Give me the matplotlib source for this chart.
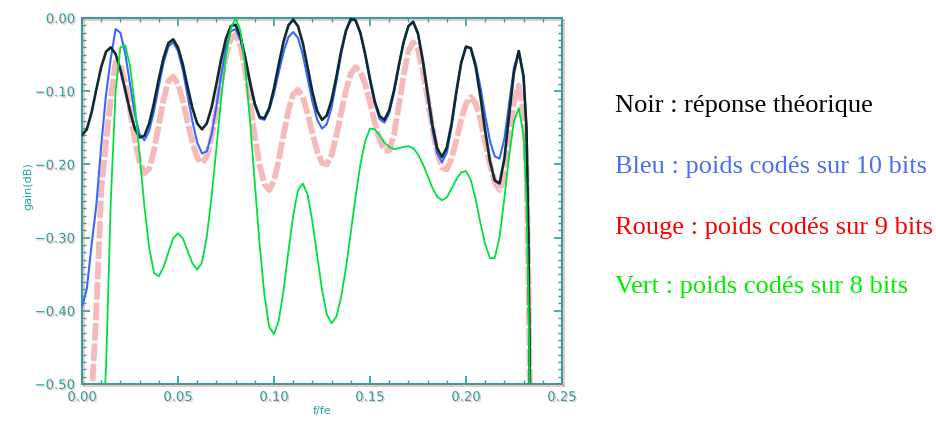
import matplotlib
matplotlib.use("Agg")
import matplotlib.pyplot as plt
import matplotlib.patheffects as pe
from matplotlib.ticker import MultipleLocator, FuncFormatter

# frequency axis (f/fe)
freq = [0.0000, 0.0025, 0.0050, 0.0075, 0.0100, 0.0125, 0.0150, 0.0175, 0.0200, 0.0225,
        0.0250, 0.0275, 0.0300, 0.0325, 0.0350, 0.0375, 0.0400, 0.0425, 0.0450, 0.0475,
        0.0500, 0.0525, 0.0550, 0.0575, 0.0600, 0.0625, 0.0650, 0.0675, 0.0700, 0.0725,
        0.0750, 0.0775, 0.0800, 0.0825, 0.0850, 0.0875, 0.0900, 0.0925, 0.0950, 0.0975,
        0.1000, 0.1025, 0.1050, 0.1075, 0.1100, 0.1125, 0.1150, 0.1175, 0.1200, 0.1225,
        0.1250, 0.1275, 0.1300, 0.1325, 0.1350, 0.1375, 0.1400, 0.1425, 0.1450, 0.1475,
        0.1500, 0.1525, 0.1550, 0.1575, 0.1600, 0.1625, 0.1650, 0.1675, 0.1700, 0.1725,
        0.1750, 0.1775, 0.1800, 0.1825, 0.1850, 0.1875, 0.1900, 0.1925, 0.1950, 0.1975,
        0.2000, 0.2025, 0.2050, 0.2075, 0.2100, 0.2125, 0.2150, 0.2175, 0.2200, 0.2225,
        0.2250, 0.2275, 0.2300, 0.2315, 0.2325, 0.2335]

# Noir : réponse théorique
gain_theorique = [-0.160, -0.152, -0.129, -0.097, -0.067, -0.046, -0.040, -0.049, -0.070, -0.098,
                  -0.127, -0.151, -0.163, -0.161, -0.144, -0.116, -0.083, -0.054, -0.034, -0.029,
                  -0.040, -0.063, -0.094, -0.123, -0.144, -0.152, -0.144, -0.122, -0.090, -0.056,
                  -0.028, -0.011, -0.009, -0.025, -0.053, -0.087, -0.117, -0.135, -0.137, -0.123,
                  -0.096, -0.063, -0.032, -0.010, -0.002, -0.011, -0.034, -0.067, -0.101, -0.127,
                  -0.139, -0.133, -0.112, -0.080, -0.045, -0.017, -0.001, -0.003, -0.020, -0.049,
                  -0.083, -0.114, -0.134, -0.139, -0.126, -0.099, -0.065, -0.033, -0.011, -0.005,
                  -0.021, -0.057, -0.102, -0.146, -0.178, -0.190, -0.177, -0.144, -0.100, -0.061,
                  -0.039, -0.041, -0.066, -0.107, -0.154, -0.196, -0.222, -0.226, -0.192, -0.132,
                  -0.074, -0.045, -0.080, -0.150, -0.300, -0.550]

# Bleu : poids codés sur 10 bits
gain_10bits = [-0.395, -0.370, -0.310, -0.255, -0.175, -0.105, -0.055, -0.015, -0.020, -0.048,
               -0.090, -0.131, -0.159, -0.167, -0.154, -0.127, -0.093, -0.061, -0.039, -0.033,
               -0.045, -0.071, -0.106, -0.141, -0.170, -0.185, -0.182, -0.159, -0.121, -0.078,
               -0.041, -0.018, -0.015, -0.030, -0.057, -0.090, -0.119, -0.137, -0.139, -0.126,
               -0.103, -0.074, -0.046, -0.026, -0.019, -0.027, -0.050, -0.082, -0.114, -0.139,
               -0.151, -0.145, -0.122, -0.087, -0.049, -0.018, -0.002, -0.003, -0.021, -0.051,
               -0.086, -0.117, -0.138, -0.143, -0.130, -0.102, -0.067, -0.033, -0.011, -0.005,
               -0.022, -0.059, -0.106, -0.152, -0.185, -0.197, -0.184, -0.149, -0.103, -0.062,
               -0.039, -0.041, -0.061, -0.094, -0.133, -0.168, -0.189, -0.192, -0.165, -0.116,
               -0.068, -0.045, -0.080, -0.150, -0.300, -0.550]

# Rouge : poids codés sur 9 bits
gain_9bits = [-0.650, -0.600, -0.520, -0.400, -0.235, -0.170, -0.110, -0.060, -0.064, -0.089,
              -0.126, -0.166, -0.197, -0.212, -0.206, -0.181, -0.146, -0.111, -0.086, -0.080,
              -0.090, -0.113, -0.142, -0.170, -0.191, -0.198, -0.189, -0.163, -0.126, -0.086,
              -0.051, -0.028, -0.023, -0.037, -0.070, -0.114, -0.161, -0.201, -0.227, -0.235,
              -0.222, -0.194, -0.159, -0.126, -0.104, -0.098, -0.108, -0.130, -0.157, -0.182,
              -0.198, -0.200, -0.187, -0.161, -0.129, -0.099, -0.076, -0.067, -0.073, -0.090,
              -0.115, -0.143, -0.166, -0.181, -0.181, -0.159, -0.120, -0.078, -0.045, -0.033,
              -0.043, -0.071, -0.109, -0.150, -0.184, -0.204, -0.207, -0.192, -0.167, -0.139,
              -0.117, -0.108, -0.116, -0.138, -0.169, -0.200, -0.225, -0.235, -0.217, -0.167,
              -0.115, -0.092, -0.130, -0.200, -0.350, -0.550]

# Vert : poids codés sur 8 bits
gain_8bits = [-0.700, -0.700, -0.700, -0.680, -0.600, -0.480, -0.250, -0.100, -0.040, -0.037,
              -0.065, -0.118, -0.187, -0.257, -0.314, -0.348, -0.353, -0.340, -0.320, -0.301,
              -0.294, -0.301, -0.318, -0.335, -0.344, -0.334, -0.299, -0.244, -0.178, -0.110,
              -0.052, -0.014, 0.000, -0.017, -0.067, -0.140, -0.225, -0.309, -0.378, -0.422,
              -0.432, -0.413, -0.372, -0.319, -0.270, -0.235, -0.226, -0.241, -0.278, -0.325,
              -0.371, -0.405, -0.417, -0.408, -0.381, -0.341, -0.293, -0.244, -0.200, -0.168,
              -0.151, -0.152, -0.160, -0.170, -0.176, -0.179, -0.178, -0.176, -0.175, -0.178,
              -0.186, -0.199, -0.215, -0.232, -0.244, -0.249, -0.245, -0.233, -0.220, -0.211,
              -0.209, -0.221, -0.247, -0.280, -0.309, -0.328, -0.328, -0.299, -0.246, -0.187,
              -0.141, -0.123, -0.160, -0.250, -0.380, -0.550]

legend_texts = ["Noir : réponse théorique",
                "Bleu : poids codés sur 10 bits",
                "Rouge : poids codés sur 9 bits",
                "Vert : poids codés sur 8 bits"]
legend_colors = ["#000000", "#4a6ef5", "#ff0000", "#00ee00"]

x_ticks = [0.00, 0.05, 0.10, 0.15, 0.20, 0.25]
y_ticks = [0.00, -0.10, -0.20, -0.30, -0.40, -0.50]

axis_col = "#1fa3a3"
shadow = [pe.SimpleLineShadow(offset=(1.2, -1.2), shadow_color="#ff7070", alpha=0.45), pe.Normal()]


def fmt(v, pos):
    s = "%.2f" % abs(v)
    return ("\u2212" + s) if v < -1e-9 else s


fig = plt.figure(figsize=(9.36, 4.21), dpi=100)
ax = fig.add_axes([0.0876, 0.088, 0.5128, 0.869])

ax.plot(freq, gain_9bits, color="#f5a3a3", lw=4.2, ls=(0, (3.0, 0.5)), alpha=0.75, zorder=2)
ax.plot(freq, gain_10bits, color="#3a66ff", lw=1.5, zorder=3)
ax.plot(freq, gain_theorique, color="#0d2a30", lw=1.9, zorder=4)
ax.plot(freq, gain_8bits, color="#00e040", lw=1.3, zorder=5)

ax.set_xlim(0.0, 0.25)
ax.set_ylim(-0.5, 0.0)
ax.set_xticks(x_ticks)
ax.set_yticks(y_ticks)
ax.xaxis.set_major_formatter(FuncFormatter(fmt))
ax.yaxis.set_major_formatter(FuncFormatter(fmt))
ax.xaxis.set_minor_locator(MultipleLocator(0.01))
ax.yaxis.set_minor_locator(MultipleLocator(0.01))
ax.tick_params(which="both", direction="in", top=True, right=True, colors=axis_col,
               labelsize=9.5, pad=5)
ax.tick_params(which="major", length=6, width=1.2)
ax.tick_params(which="minor", length=3, width=1.0)
for lab in ax.get_xticklabels() + ax.get_yticklabels():
    lab.set_color(axis_col)
    lab.set_path_effects([pe.withSimplePatchShadow(offset=(1, -1), shadow_rgbFace="#ff8080", alpha=0.5)])
for sp in ax.spines.values():
    sp.set_color(axis_col)
    sp.set_linewidth(1.4)
    sp.set_path_effects(shadow)

ax.set_xlabel("f/fe", color=axis_col, fontsize=8)
ax.set_ylabel("gain(dB)", color=axis_col, fontsize=8)
ax.xaxis.set_label_coords(0.5, -0.06)
ax.yaxis.set_label_coords(-0.102, 0.54)

ys = [0.734, 0.589, 0.444, 0.304]
for txt, col, yy in zip(legend_texts, legend_colors, ys):
    fig.text(0.657, yy, txt, color=col, fontsize=19, family="Liberation Serif",
             va="baseline", ha="left")

fig.savefig("out.png", dpi=100, facecolor="white")
